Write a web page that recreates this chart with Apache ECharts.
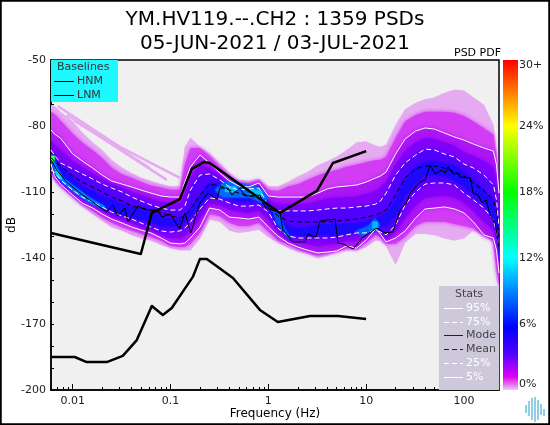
<!DOCTYPE html>
<html><head><meta charset="utf-8">
<style>html,body{margin:0;padding:0;background:#fff}#c{width:550px;height:425px}</style>
<script src="https://cdn.jsdelivr.net/npm/echarts@6/dist/echarts.min.js"></script>
</head><body><div id="c"></div>
<script>
const freq=[0.006,0.0065,0.0075,0.01,0.0125,0.016,0.02,0.025,0.032,0.04,0.05,0.063,0.08,0.1,0.125,0.14,0.16,0.2,0.25,0.32,0.4,0.5,0.63,0.8,1,1.25,1.6,2,2.5,3.2,4,5,6.3,8,10,12.5,14,16,20,25,32,40,50,63,80,100,125,160,200,215,228];
const p95=[-81.8,-83.6,-85.5,-92.7,-95.9,-99.1,-102.3,-105,-106.4,-107.7,-109.1,-110.5,-111.8,-112.3,-112.3,-105.5,-98.6,-93.2,-96.8,-101.4,-105,-107.3,-107.7,-105.9,-111.8,-112.3,-112.3,-112.3,-112.3,-110.5,-108.6,-107.7,-107.3,-106.8,-105.5,-103.6,-102.7,-100.9,-92.7,-85.9,-82.3,-80.9,-81.4,-83.2,-85,-86.4,-88.2,-90,-91.4,-97.7,-110.5];
const p75=[-90.9,-93.2,-96.8,-99.5,-101.8,-104.1,-106.4,-108.2,-110,-112.3,-114.1,-115.9,-117.3,-118.2,-118.2,-116.4,-109.1,-102.3,-101.8,-104.5,-107.7,-109.1,-108.6,-108.2,-116.4,-118.6,-118.6,-118.6,-118.6,-118.2,-117.7,-117.3,-117.3,-116.8,-116.4,-115.5,-114.1,-110.5,-102.3,-96.8,-93.2,-90.5,-90.9,-92.7,-94.1,-97.3,-99.1,-102.3,-106.8,-113.6,-125.9];
const meanDb=[-94.5,-95.9,-98.2,-102.7,-105.5,-107.7,-110,-112.3,-114.1,-116.4,-117.3,-118.2,-119.5,-120.9,-121.8,-120.9,-117.7,-111.4,-106.4,-107.3,-109.1,-110.5,-111.8,-112.7,-116.4,-120.9,-123.2,-123.6,-123.6,-123.6,-123.6,-123.2,-122.7,-122.3,-121.4,-120.5,-119.5,-118.2,-111.4,-103.6,-99.5,-98.2,-98.2,-99.1,-100.9,-102.7,-105.9,-109.5,-113.6,-119.1,-130.5];
const p25=[-100,-100.9,-104.5,-109.1,-112.3,-114.5,-116.8,-119.1,-120.9,-122.3,-124.1,-125.9,-127.7,-128.2,-127.7,-126.4,-123.6,-117.7,-112.7,-113.2,-115,-116.4,-116.4,-115.9,-119.1,-126.4,-130,-130.9,-130.9,-130.9,-130.9,-130.5,-129.5,-128.6,-128.6,-127.3,-128.2,-129.5,-125,-115.9,-110,-106.4,-105.9,-105.9,-106.8,-110.5,-113.6,-117.3,-122.7,-128.2,-135];
const p5=[-97.3,-102.7,-106.4,-111.4,-115,-117.3,-120,-122.3,-124.1,-125.9,-127.3,-128.6,-130.9,-133.2,-133.6,-133.2,-130.9,-125.9,-117.3,-118.2,-121.4,-121.8,-122.3,-121.4,-125.9,-130,-133.2,-135,-136.4,-137.7,-137.3,-136.8,-134.5,-135.5,-131.8,-126.8,-129.1,-132.7,-130.9,-127.7,-121.8,-117.7,-117.3,-116.8,-117.7,-119.5,-123.6,-129.5,-130.9,-136.4,-146.8];
const envTop=[-70.5,-71,-73.5,-78,-83,-87.5,-91,-95.5,-99,-101.5,-103.5,-105,-106.5,-107.5,-107.5,-89.5,-85.5,-89.5,-92.5,-97,-101.5,-104.5,-105,-104,-107.5,-107.5,-105.5,-103,-101,-98,-96,-94,-91,-87.5,-87,-89,-89.5,-88.5,-79.5,-72.5,-69.5,-68,-67,-65,-63.5,-64,-67,-70.5,-79.5,-91,-125];
const envBot=[-99,-104.5,-107.5,-112.5,-116.5,-120,-123,-126,-127.5,-129.5,-131,-132,-134,-135.5,-136.5,-136.5,-136.5,-131,-122.5,-123.5,-127.5,-128.5,-128,-127,-130.5,-133,-135.5,-137,-138,-140,-139,-137,-136.5,-136.5,-135,-132,-132,-134.5,-143,-133,-129,-129,-129.5,-131,-132,-131,-127.5,-130,-133,-150,-154.5];
const magTop=[-73.5,-74.5,-77.5,-83.5,-87.5,-91,-94.5,-99,-102,-103.5,-105.5,-107,-108,-109,-109,-97.5,-90,-90,-93.5,-98.5,-102.5,-105.5,-106,-104.5,-109,-109.5,-107.5,-106.5,-104.5,-102.5,-101,-100,-98.5,-97.5,-96.5,-95.5,-95.5,-94,-85.5,-78,-75,-73.5,-73.5,-73.5,-74,-75.5,-78,-81,-84,-94.5,-126.5];
const magBot=[-100,-103.5,-107,-112,-115.5,-118.5,-121.5,-124,-126,-127.5,-129,-130.5,-132,-134.5,-135,-135,-133.5,-128.5,-120,-121,-124,-125.5,-125.5,-124,-128,-132,-134,-136,-137.5,-139,-138,-137,-135.5,-136,-133,-129.5,-130.5,-133.5,-133.5,-130.5,-125.5,-123.5,-123.5,-123.5,-124.5,-125.5,-126.5,-130,-132,-145.5,-152.5];
const midTop=[-86.5,-88.5,-91,-96,-98.5,-101.5,-104,-106.5,-108,-110,-111.5,-113,-114.5,-115,-115,-111,-103.5,-97.5,-99,-102.5,-106.5,-108,-108,-107,-114,-115.5,-115.5,-115.5,-115.5,-114,-113,-112.5,-112.5,-112,-111,-109.5,-108,-105.5,-97.5,-91.5,-87.5,-85.5,-86,-87.5,-89,-92,-93.5,-96,-99,-105.5,-118];
const midBot=[-101,-102.5,-106,-110.5,-113.5,-116,-118.5,-121,-122.5,-124,-126,-127.5,-129.5,-131,-131,-130,-127.5,-122,-115,-116,-118,-119,-119.5,-118.5,-122.5,-128,-132,-133,-133.5,-134.5,-134,-133.5,-132,-132,-130.5,-127.5,-128.5,-131.5,-128,-122,-116,-112.5,-112,-111.5,-112.5,-115,-118.5,-123.5,-127,-132,-141];
const coreTop=[-92,-94.5,-99,-103.5,-107.5,-109.5,-112,-113.5,-115.5,-117,-117.5,-119,-121,-122.5,-122.5,-122,-118,-112,-106,-106,-106.5,-107.5,-107.5,-108.5,-115,-121.5,-125.5,-126.5,-126.5,-125,-124.5,-124.5,-124.5,-124,-123.5,-122,-121,-119.5,-113.5,-104.5,-98.5,-96.5,-96,-97,-98,-101,-104.5,-109,-115,-122,-134];
const coreBot=[-98,-100,-102.5,-107.5,-111.5,-114,-116.5,-118.5,-120.5,-121.5,-122.5,-123.5,-125.5,-125.5,-125.5,-123.5,-121,-116,-111,-112,-113,-114,-114,-114,-117.5,-124.5,-128.5,-130,-130,-129,-129.5,-129.5,-128.5,-128.5,-128,-126.5,-125.5,-125.5,-120.5,-111.5,-106,-102.5,-102.5,-102.5,-104.5,-107.5,-111,-115,-121.5,-127.5,-141];

const modeFreq=[0.006,0.00686,0.00868,0.01266,0.0189,0.0223,0.0257,0.0289,0.0341,0.0366,0.0463,0.0586,0.0741,0.0815,0.0984,0.1245,0.14,0.1614,0.1995,0.241,0.298,0.32,0.386,0.424,0.512,0.576,0.82,0.923,1.315,1.41,1.79,2.37,2.54,3.07,3.37,4.81,5.15,5.81,7.34,9.29,12.9,15.6,18.8,22.2,26.2,28.1,35.6,40.1,45.1,50.7,59.8,64.2,68.9,77.4,85.1,91.4,116,124,140,153,169,185,208,228];
const modeDb=[-95.5,-100,-105.5,-111.4,-116.8,-119.1,-115.9,-120.9,-117.3,-123.6,-116.4,-118.2,-118.2,-121.4,-120,-126.8,-119.5,-128.6,-115,-110.5,-113.2,-108.2,-108.2,-111.4,-108.2,-111.8,-111.4,-116.8,-119.5,-127.3,-132.7,-132.7,-129.1,-130.5,-123.2,-122.3,-133.2,-133.6,-135.9,-130.5,-126.4,-128.6,-128.2,-118.2,-114.5,-110.5,-105.5,-104.5,-97.7,-101.8,-100,-101.4,-98.6,-101.8,-101.4,-103.2,-103.6,-110.5,-111.4,-115,-113.6,-120.5,-124.1,-135];
const hnmFreq=[0.006,0.0497,0.0644,0.1245,0.165,0.219,0.252,1.315,3.14,4.58,10];
const hnmDb=[-128.6,-138.2,-119.5,-113.2,-99.5,-96.4,-96.8,-119.5,-109.5,-96.8,-91.4];
const lnmFreq=[0.006,0.0105,0.0139,0.0223,0.0325,0.0452,0.0644,0.0834,0.103,0.169,0.1995,0.235,0.435,0.82,1.25,2.67,5.15,10];
const lnmDb=[-185,-185,-187.3,-187.3,-184.5,-177.3,-161.8,-165.9,-162.7,-148.6,-140.5,-140.5,-149.1,-163.6,-169.1,-166.4,-166.4,-167.7];

const streak1F=[0.00702,0.0303,0.1245], streak1D=[-70.9,-89.5,-103.6];
const streak2F=[0.00868,0.0411,0.0916], streak2D=[-75,-94.5,-104.5];
const streak3F=[0.0105,0.0341,0.0614], streak3D=[-77.7,-91.8,-99.1];

const patchLeftF=[0.006,0.0067,0.00772,0.0105,0.0149,0.0213,0.0213,0.0149,0.0105,0.00772,0.0067,0.006];
const patchLeftD=[-93,-97.5,-103,-107.5,-112.5,-116.5,-118,-115,-110.5,-105.5,-101,-96.5];
const patchGreenF=[0.006,0.00654,0.00654,0.006], patchGreenD=[-93.5,-93.5,-96,-96];
const patchCyanF=[0.0067,0.00772,0.00772,0.0067], patchCyanD=[-99,-102.5,-104.5,-102];
const patchMidF=[0.284,0.36,0.512,0.729,0.88,0.99,0.86,0.648,0.424,0.335];
const patchMidD=[-109,-105,-106,-107.5,-109,-113,-115,-112.5,-112.5,-112.5];
const patchMidC1F=[0.36,0.466,0.466,0.36], patchMidC1D=[-107.5,-107.5,-110,-110];
const patchMidC2F=[0.648,0.86,0.86,0.648], patchMidC2D=[-108.5,-109.5,-112.5,-111.5];
const patchLowF=[1.09,1.315,1.48,1.79,1.59,1.2], patchLowD=[-117.5,-120.5,-126.5,-132,-131,-123.5];
const patchHighF=[7.7,10.45,12.3,13.9,12.6,9.08], patchHighD=[-128,-125.5,-122,-125,-127.5,-130];
const patchHighCF=[11.5,13.2,13.2,11.5], patchHighCD=[-123.5,-123.5,-126.5,-126.5];

const majorTicks=[0.01,0.1,1,10,100];
const minorTicks=[0.006,0.007,0.008,0.009,0.02,0.03,0.04,0.05,0.06,0.07,0.08,0.09,0.2,0.3,0.4,0.5,0.6,0.7,0.8,0.9,2,3,4,5,6,7,8,9,20,30,40,50,60,70,80,90,200];
const yLabels=[-50,-80,-110,-140,-170,-200];
const barLabels={0:'0%',6:'6%',12:'12%',18:'18%',24:'24%',30:'30+'};

function band(t,b){const a=[];for(let i=0;i<t.length;i++)a.push([freq[i],t[i]]);for(let i=b.length-1;i>=0;i--)a.push([freq[i],b[i]]);return a;}
function shape(f,d){return f.map((v,i)=>[v,d[i]]);}
const polys=[
 {p:band(envTop,envBot),c:'#e6aaf2',b:1},
 {p:band(magTop,magBot),c:'#d23cf4',b:4},
 {p:band(p95,p5),c:'#ac14f6',b:4},
 {p:band(midTop,midBot),c:'#8000fa',b:4},
 {p:band(p75,p25),c:'#5000fc',b:4},
 {p:band(coreTop,coreBot),c:'#1c08fe',b:3},
 {p:shape(patchLeftF,patchLeftD),c:'#0078ff',b:2},
 {p:shape(patchMidF,patchMidD),c:'#0068ff',b:3},
 {p:shape(patchLowF,patchLowD),c:'#0050ff',b:2},
 {p:shape(patchHighF,patchHighD),c:'#0060ff',b:2},
 {p:shape(patchCyanF,patchCyanD),c:'#00d8e8',b:1},
 {p:shape(patchMidC1F,patchMidC1D),c:'#00c8f8',b:2},
 {p:shape(patchMidC2F,patchMidC2D),c:'#00c8f8',b:2},
 {p:shape(patchHighCF,patchHighCD),c:'#00b8ff',b:1},
 {p:shape(patchGreenF,patchGreenD),c:'#30ff60',b:1}
];
const zip=(f,d)=>f.map((v,i)=>[v,d[i]]);
const line=(f,d,color,width,dash,z,name)=>({type:'line',name:name,data:zip(f,d),showSymbol:false,symbol:'none',silent:true,z:z,clip:true,
  lineStyle:{color:color,width:width,type:dash||'solid',cap:'butt',join:'round'},xAxisIndex:0,yAxisIndex:0});
const FONT='"DejaVu Sans"';
const chart=echarts.init(document.getElementById('c'),null,{renderer:'canvas'});
const legendRow=(x0,x1,tx,y,label,color,dash,tc)=>[
 {type:'line',shape:{x1:x0,y1:y+0.5,x2:x1,y2:y+0.5},style:{stroke:color,lineWidth:1,lineDash:dash||null},z:50},
 {type:'text',x:tx,y:y,style:{text:label,fill:tc||color,font:'11px '+FONT,verticalAlign:'middle'},z:50}];
const logoX=[526,529,532,535,538,541,544], logoA=[405,401,398,397,400,404,409], logoB=[413,416,420,422,420,415,416];
chart.setOption({
 animation:false,
 backgroundColor:'#fff',
 title:{text:'YM.HV119.--.CH2 : 1359 PSDs\n05-JUN-2021 / 03-JUL-2021',left:'center',top:3,
   textStyle:{fontFamily:FONT,fontSize:20,fontWeight:'normal',color:'#000',lineHeight:24}},
 grid:[{left:51,right:51,top:60,bottom:35,outerBoundsMode:'none',show:true,backgroundColor:'#f0f0f0',borderColor:'#000',borderWidth:1.5},
       {left:503,width:15,top:60,height:330,outerBoundsMode:'none',show:false}],
 xAxis:[
  {type:'log',logBase:10,min:0.006,max:228,gridIndex:0,name:'Frequency (Hz)',nameLocation:'middle',nameGap:24,nameMoveOverlap:false,
   nameTextStyle:{fontFamily:FONT,fontSize:12,color:'#000',verticalAlign:'middle'},
   axisLine:{lineStyle:{color:'#000',width:1.5}},splitLine:{show:false},minorTick:{show:false},
   axisTick:{inside:true,length:6,customValues:majorTicks,lineStyle:{color:'#000',width:1}},
   axisLabel:{customValues:majorTicks,fontFamily:FONT,fontSize:11,color:'#222',margin:6,formatter:v=>String(v)}},
  {type:'log',logBase:10,min:0.006,max:228,gridIndex:0,position:'bottom',
   axisLine:{show:false},splitLine:{show:false},axisLabel:{show:false},
   axisTick:{inside:true,length:3,customValues:minorTicks,lineStyle:{color:'#000',width:1}}},
  {type:'category',gridIndex:1,data:['c'],show:false}
 ],
 yAxis:[
  {type:'value',min:-200,max:-50,interval:10,gridIndex:0,name:'dB',nameLocation:'middle',nameGap:39,nameMoveOverlap:false,
   nameTextStyle:{fontFamily:FONT,fontSize:12,color:'#000',verticalAlign:'middle'},
   axisLine:{lineStyle:{color:'#000',width:1.5}},splitLine:{show:false},
   axisTick:{inside:true,length:3,lineStyle:{color:'#000',width:1}},
   axisLabel:{fontFamily:FONT,fontSize:11,color:'#222',margin:5,showMinLabel:true,showMaxLabel:true,
     formatter:v=>yLabels.indexOf(v)>=0?String(v):''}},
  {type:'value',min:0,max:30,interval:6,gridIndex:1,position:'right',
   axisLine:{show:false},axisTick:{show:false},splitLine:{show:false},
   axisLabel:{fontFamily:FONT,fontSize:11,color:'#222',margin:1,verticalAlignMinLabel:'bottom',verticalAlignMaxLabel:'top',formatter:v=>barLabels[v]}}
 ],
 series:[
  {type:'custom',xAxisIndex:0,yAxisIndex:0,silent:true,clip:true,z:2,coordinateSystem:'cartesian2d',
   data:polys.map((p,i)=>[p.p[0][0],p.p[0][1],i]),encode:{x:0,y:1},
   renderItem:(params,api)=>{const o=polys[params.dataIndex];
     return {type:'polygon',shape:{points:o.p.map(q=>api.coord(q))},style:{fill:o.c,stroke:null,shadowBlur:o.b,shadowColor:o.c}};}},
  line(streak1F,streak1D,'#e6aaf2',2.5,null,3),
  line(streak2F,streak2D,'#e6aaf2',2.5,null,3),
  line(streak3F,streak3D,'#e6aaf2',2.5,null,3),
  line(freq,p95,'#fff',1,null,5,'95%'),
  line(freq,p75,'#fff',1,[5,3],5,'75%'),
  line(freq,meanDb,'#000',1,[5,3],6,'Mean'),
  line(modeFreq,modeDb,'#000',1,null,7,'Mode'),
  line(freq,p25,'#fff',1,[5,3],5,'25%'),
  line(freq,p5,'#fff',1,null,5,'5%'),
  line(hnmFreq,hnmDb,'#000',2.5,null,8,'HNM'),
  line(lnmFreq,lnmDb,'#000',2.5,null,8,'LNM'),
  {type:'bar',xAxisIndex:2,yAxisIndex:1,data:[30],barWidth:'100%',silent:true,
   itemStyle:{color:new echarts.graphic.LinearGradient(0,0,0,1,[
    {offset:0,color:'#ff0000'},{offset:0.2,color:'#ffff00'},{offset:0.4,color:'#00ff00'},{offset:0.6,color:'#00ffff'},
    {offset:0.81,color:'#0000ff'},{offset:0.89,color:'#5000ff'},{offset:0.925,color:'#9900ff'},{offset:0.96,color:'#dd00f0'},
    {offset:0.985,color:'#e878f0'},{offset:1,color:'#f2c8f5'}])}}
 ],
 graphic:[
  {type:'text',x:454,y:48,style:{text:'PSD PDF',fill:'#000',font:'11px '+FONT},z:50},
  {type:'rect',shape:{x:51,y:60,width:67,height:42},style:{fill:'#1ef8ff'},z:40},
  {type:'text',x:57,y:67,style:{text:'Baselines',fill:'#333',font:'11px '+FONT,verticalAlign:'middle'},z:50},
  ...legendRow(54,74,77,81,'HNM','#000',null,'#333'),
  ...legendRow(54,74,77,95,'LNM','#000',null,'#333'),
  {type:'rect',shape:{x:439,y:286,width:60,height:104},style:{fill:'#cdc8da'},z:40},
  {type:'text',x:455,y:294,style:{text:'Stats',fill:'#444',font:'11px '+FONT,verticalAlign:'middle'},z:50},
  ...legendRow(444,463,466,308,'95%','#fff'),
  ...legendRow(444,463,466,322,'75%','#fff',[5,3]),
  ...legendRow(444,463,466,335,'Mode','#222',null,'#444'),
  ...legendRow(444,463,466,349,'Mean','#222',[5,3],'#444'),
  ...legendRow(444,463,466,363,'25%','#fff',[5,3]),
  ...legendRow(444,463,466,377,'5%','#fff'),
  ...logoX.map((x,i)=>({type:'line',shape:{x1:x,y1:logoA[i],x2:x,y2:logoB[i]},style:{stroke:'#52b6d6',lineWidth:1.3},z:50})),
  {type:'rect',shape:{x:0.75,y:0.75,width:548.5,height:423.5},style:{fill:'none',stroke:'#000',lineWidth:2},z:60}
 ]
});
</script></body></html>
